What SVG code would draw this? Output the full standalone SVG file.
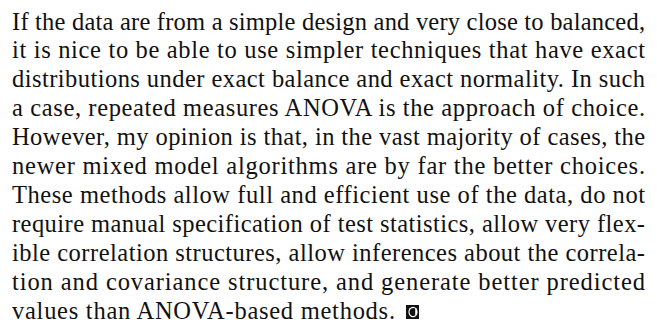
<svg xmlns="http://www.w3.org/2000/svg" width="657" height="328" viewBox="0 0 657 328">
  <style>
    .body { font-family: "Liberation Serif", "DejaVu Serif", serif; font-size: 24.5px; fill: #111; }
  </style>
  <rect width="657" height="328" fill="#ffffff"/>
  <!-- justified paragraph: every full line is stretched to the column width -->
  <g id="paragraph" class="body">
    <text x="12" y="29.5" textLength="633" lengthAdjust="spacing">If the data are from a simple design and very close to balanced,</text>
    <text x="12" y="58.4" textLength="633" lengthAdjust="spacing">it is nice to be able to use simpler techniques that have exact</text>
    <text x="12" y="87.3" textLength="633" lengthAdjust="spacing">distributions under exact balance and exact normality. In such</text>
    <text x="12" y="116.2" textLength="633" lengthAdjust="spacing">a case, repeated measures ANOVA is the approach of choice.</text>
    <text x="12" y="145.1" textLength="633" lengthAdjust="spacing">However, my opinion is that, in the vast majority of cases, the</text>
    <text x="12" y="174" textLength="633" lengthAdjust="spacing">newer mixed model algorithms are by far the better choices.</text>
    <text x="12" y="202.9" textLength="633" lengthAdjust="spacing">These methods allow full and efficient use of the data, do not</text>
    <text x="12" y="231.8" textLength="633" lengthAdjust="spacing">require manual specification of test statistics, allow very flex-</text>
    <text x="12" y="260.7" textLength="633" lengthAdjust="spacing">ible correlation structures, allow inferences about the correla-</text>
    <text x="12" y="289.6" textLength="633" lengthAdjust="spacing">tion and covariance structure, and generate better predicted</text>
    <text x="12" y="318.5" textLength="383" lengthAdjust="spacing">values than ANOVA-based methods.</text>
  </g>
  <!-- end-of-section mark -->
  <g id="end-mark" transform="translate(406,305)">
    <rect x="0" y="0" width="13" height="14" fill="#111"/>
    <ellipse cx="7" cy="7" rx="4.6" ry="5.2" fill="#fff"/>
    <path d="M9.2 3.4 A4 4 0 1 0 9.2 10.6 Z" fill="#111"/>
  </g>
</svg>
